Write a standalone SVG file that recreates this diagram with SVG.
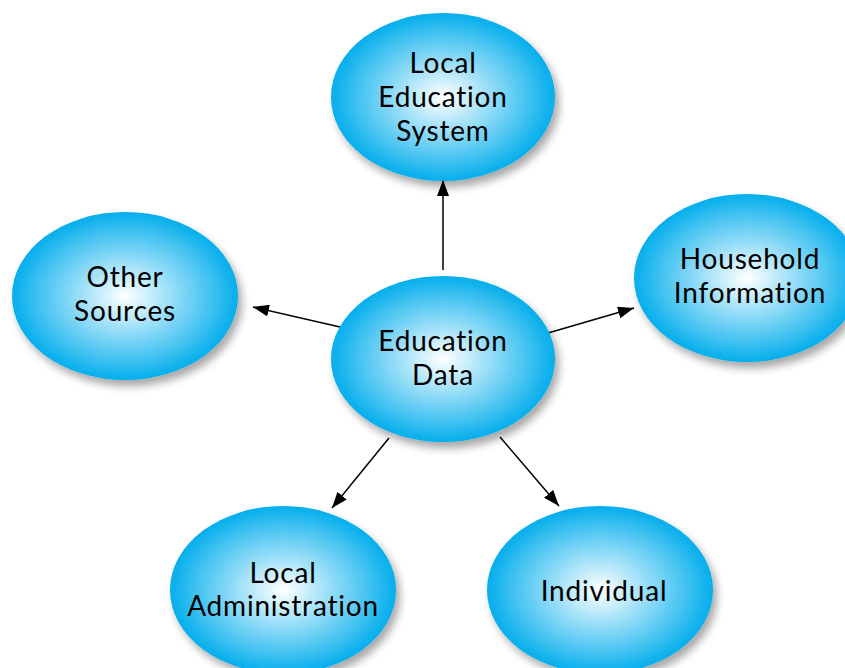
<svg xmlns="http://www.w3.org/2000/svg" width="845" height="668" viewBox="0 0 845 668">
<defs>
<radialGradient id="g" cx="0.5" cy="0.5" r="0.5">
<stop offset="0" stop-color="#ffffff"/>
<stop offset="0.35" stop-color="#a8e3f9"/>
<stop offset="0.75" stop-color="#45c3f1"/>
<stop offset="1" stop-color="#04aeec"/>
</radialGradient>
<filter id="sh" x="-20%" y="-20%" width="150%" height="150%">
<feGaussianBlur in="SourceAlpha" stdDeviation="4"/>
<feOffset dx="4" dy="6" result="b"/>
<feComponentTransfer><feFuncA type="linear" slope="0.35"/></feComponentTransfer>
<feMerge><feMergeNode/><feMergeNode in="SourceGraphic"/></feMerge>
</filter>
<marker id="ah" markerWidth="16" markerHeight="12" refX="16" refY="6" orient="auto" markerUnits="userSpaceOnUse">
<path d="M0,0 L16,6 L0,12 Z" fill="#000"/>
</marker>
</defs>
<style>
.n ellipse{fill:url(#g);filter:url(#sh)}
.n text{font-family:Lato,"Open Sans","Liberation Sans",sans-serif;font-size:28px;letter-spacing:0.8px;font-variant-ligatures:none;fill:#000;text-anchor:middle}
.c line{stroke:#000;stroke-width:1.5;marker-end:url(#ah)}
</style>
<g class="c" id="connectors">
<line x1="443" y1="270" x2="443" y2="180"/>
<line x1="340" y1="327" x2="253" y2="307"/>
<line x1="548" y1="333" x2="634" y2="308"/>
<line x1="389" y1="438" x2="332" y2="508"/>
<line x1="500" y1="437" x2="559" y2="506"/>
</g>
<g class="n" id="local-education-system">
<ellipse cx="443" cy="97" rx="112" ry="84"/>
<text x="443" y="73">Local</text>
<text x="443" y="107">Education</text>
<text x="443" y="141">System</text>
</g>
<g class="n" id="education-data">
<ellipse cx="443" cy="359" rx="112" ry="83"/>
<text x="443" y="351">Education</text>
<text x="443" y="385">Data</text>
</g>
<g class="n" id="other-sources">
<ellipse cx="125" cy="296" rx="113" ry="84"/>
<text x="125" y="287">Other</text>
<text x="125" y="321">Sources</text>
</g>
<g class="n" id="household-information">
<ellipse cx="747" cy="278" rx="113" ry="84"/>
<text x="750" y="269">Household</text>
<text x="750" y="303">Information</text>
</g>
<g class="n" id="local-administration">
<ellipse cx="283" cy="590" rx="113" ry="84"/>
<text x="283" y="583">Local</text>
<text x="283" y="616">Administration</text>
</g>
<g class="n" id="individual">
<ellipse cx="600" cy="590" rx="113" ry="84"/>
<text x="604" y="601">Individual</text>
</g>
</svg>
